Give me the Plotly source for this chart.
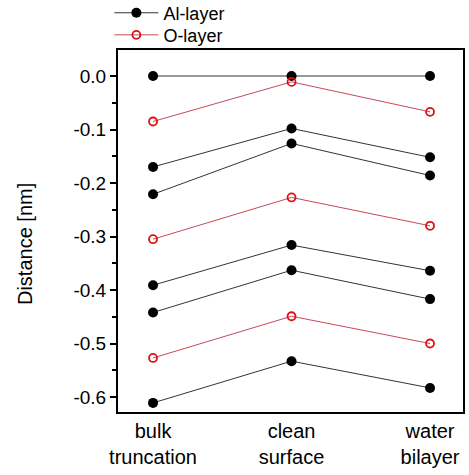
import plotly.graph_objects as go

categories = ["bulk<br>truncation", "clean<br>surface", "water<br>bilayer"]
x_pos = [0, 1, 2]

al_layers = [
    [0.0, 0.0, 0.0],
    [-0.170, -0.098, -0.152],
    [-0.221, -0.126, -0.186],
    [-0.391, -0.316, -0.364],
    [-0.442, -0.363, -0.417],
    [-0.611, -0.533, -0.583],
]
o_layers = [
    [-0.085, -0.011, -0.067],
    [-0.305, -0.227, -0.280],
    [-0.527, -0.449, -0.500],
]

y_tickvals = [0.0, -0.1, -0.2, -0.3, -0.4, -0.5, -0.6]
y_ticktext = ["0.0", "-0.1", "-0.2", "-0.3", "-0.4", "-0.5", "-0.6"]

FONT = "Liberation Sans, Arial, sans-serif"

fig = go.Figure()
for i, ys in enumerate(al_layers):
    fig.add_trace(go.Scatter(
        x=x_pos, y=ys, mode="lines+markers", name="Al-layer",
        legendgroup="al", showlegend=(i == 0), legend="legend",
        line=dict(color="#333333", width=1),
        marker=dict(symbol="circle", size=10, color="black",
                    line=dict(color="black", width=0)),
    ))
for i, ys in enumerate(o_layers):
    fig.add_trace(go.Scatter(
        x=x_pos, y=ys, mode="lines+markers", name="O-layer",
        legendgroup="o", showlegend=(i == 0), legend="legend2",
        line=dict(color="#c8485a", width=1),
        marker=dict(symbol="circle-open", size=8, color="#dd1111",
                    line=dict(color="#dd1111", width=1.8)),
    ))

leg_common = dict(
    xref="paper", yref="paper", xanchor="left", yanchor="middle",
    bgcolor="rgba(0,0,0,0)", borderwidth=0,
    font=dict(size=18, color="black"), itemwidth=44,
)

fig.update_layout(
    width=469, height=475,
    margin=dict(l=118, r=6, t=50, b=63, autoexpand=False),
    paper_bgcolor="white", plot_bgcolor="white",
    font=dict(family=FONT, size=18, color="black"),
    showlegend=True,
    legend=dict(x=-0.025, y=1.102, **leg_common),
    legend2=dict(x=-0.025, y=1.041, **leg_common),
    xaxis=dict(
        range=[-0.253, 2.238], tickvals=x_pos, ticktext=categories,
        showgrid=False, zeroline=False, showline=True, linecolor="black",
        linewidth=2, mirror=True, ticks="", tickfont=dict(size=20),
    ),
    yaxis=dict(
        range=[-0.628, 0.0486], tickvals=y_tickvals, ticktext=y_ticktext,
        showgrid=False, zeroline=False, showline=True, linecolor="black",
        linewidth=2, mirror=True, ticks="outside", ticklen=6, tickwidth=1.5,
        tickcolor="black", tickfont=dict(size=19),
        minor=dict(dtick=0.05, ticks="outside", ticklen=4, tickwidth=1.5,
                   tickcolor="black", showgrid=False),
    ),
    annotations=[dict(
        text="Distance [nm]", textangle=-90, xref="paper", yref="paper",
        x=-0.2696, y=0.464, xanchor="center", yanchor="middle",
        showarrow=False, font=dict(size=20),
    )],
)

fig.write_html("out.html")
